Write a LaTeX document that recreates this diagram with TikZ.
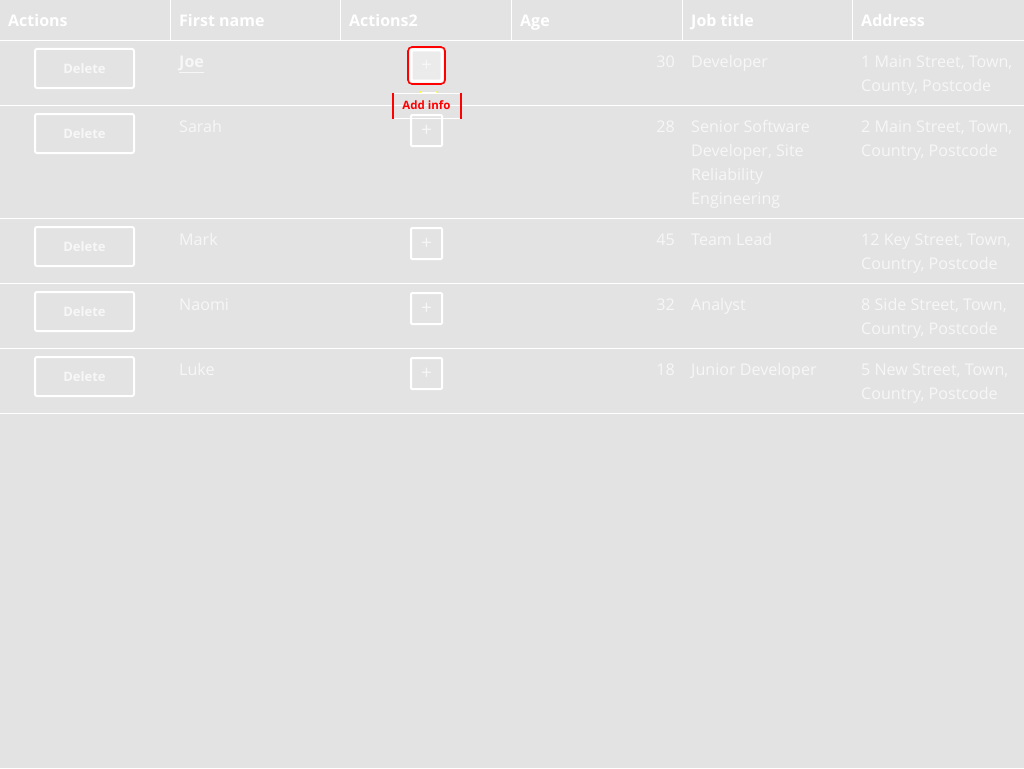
\documentclass[tikz,border=0pt]{standalone}
\usepackage{fontspec}
\setmainfont{Open Sans}
\definecolor{bg}{HTML}{E3E3E3}
\definecolor{txt}{HTML}{F7F7F7}
\definecolor{ringred}{HTML}{FF0000}
\definecolor{ringyel}{HTML}{FFFF00}
\definecolor{focusfill}{HTML}{EBEBEB}
\tikzset{
  grid/.style={draw=white, line width=1pt},
  cell/.style={anchor=north west, inner sep=0pt, align=left, text=txt, font=\fontsize{16.1}{24}\selectfont},
  agecell/.style={anchor=north east, inner sep=0pt, align=right, text=txt, font=\fontsize{16.1}{24}\selectfont},
  head/.style={anchor=north west, inner sep=0pt, text=white, font=\fontsize{16}{24}\selectfont\bfseries},
  delbtn/.style={draw=white, line width=2pt, rounded corners=2pt, minimum width=99pt, minimum height=39pt, inner sep=0pt, text=txt, font=\fontsize{13}{16}\selectfont\bfseries},
  plusbtn/.style={draw=white, line width=2pt, rounded corners=1pt, minimum width=31pt, minimum height=31pt, inner sep=0pt, text=txt, font=\fontsize{19}{19}\selectfont},
  focusring/.style={draw=ringred, line width=1.6pt, rounded corners=4pt, minimum width=37pt, minimum height=37pt, inner sep=0pt},
  tipbox/.style={draw=white, line width=1pt, minimum width=67pt, minimum height=25pt, inner sep=0pt, text=ringred, font=\fontsize{11.5}{12}\selectfont\bfseries},
}
\begin{document}
\begin{tikzpicture}[x=1pt,y=-1pt]
\fill[bg] (0,0) rectangle (1024,768);
\useasboundingbox (0,0) rectangle (1024,768);
% grid lines
\foreach \xx in {170.5,340.5,511.5,682.5,852.5} \draw[grid] (\xx,0) -- (\xx,40);
\foreach \yy in {40.5,105.5,218.5,283.5,348.5,413.5} \draw[grid] (0,\yy) -- (1024,\yy);
% header
\node[head] (h1) at (8,9.2) {\strut Actions};
\node[head] (h2) at (179,9.2) {\strut First name};
\node[head] (h3) at (349,9.2) {\strut Actions2};
\node[head] (h4) at (520,9.2) {\strut Age};
\node[head] (h5) at (691,9.2) {\strut Job title};
\node[head] (h6) at (861,9.2) {\strut Address};
% row 1
\node[delbtn] (d1) at (84.5,68.5) {Delete};
\node[cell] (n1) at (179,50.2) {\strut\textbf{\underline{Joe}}};
\node[plusbtn, fill=focusfill, line width=3pt, rounded corners=2pt] (p1) at (426.5,65.5) {+};
\node[focusring] (r1) at (p1) {};
\node[agecell] (a1) at (675,50.2) {\strut 30};
\node[cell] (j1) at (691,50.2) {\strut Developer};
\node[cell] (ad1) at (861,50.2) {\strut 1 Main Street, Town,\\\strut County, Postcode};
% row 2
\node[delbtn] (d2) at (84.5,133.5) {Delete};
\node[cell] (n2) at (179,115.2) {\strut Sarah};
\node[plusbtn] (p2) at (426.5,130.5) {+};
\node[agecell] (a2) at (675,115.2) {\strut 28};
\node[cell] (j2) at (691,115.2) {\strut Senior Software\\\strut Developer, Site\\\strut Reliability\\\strut Engineering};
\node[cell] (ad2) at (861,115.2) {\strut 2 Main Street, Town,\\\strut Country, Postcode};
% row 3
\node[delbtn] (d3) at (84.5,246.5) {Delete};
\node[cell] (n3) at (179,228.2) {\strut Mark};
\node[plusbtn] (p3) at (426.5,243.5) {+};
\node[agecell] (a3) at (675,228.2) {\strut 45};
\node[cell] (j3) at (691,228.2) {\strut Team Lead};
\node[cell] (ad3) at (861,228.2) {\strut 12 Key Street, Town,\\\strut Country, Postcode};
% row 4
\node[delbtn] (d4) at (84.5,311.5) {Delete};
\node[cell] (n4) at (179,293.2) {\strut Naomi};
\node[plusbtn] (p4) at (426.5,308.5) {+};
\node[agecell] (a4) at (675,293.2) {\strut 32};
\node[cell] (j4) at (691,293.2) {\strut Analyst};
\node[cell] (ad4) at (861,293.2) {\strut 8 Side Street, Town,\\\strut Country, Postcode};
% row 5
\node[delbtn] (d5) at (84.5,376.5) {Delete};
\node[cell] (n5) at (179,358.2) {\strut Luke};
\node[plusbtn] (p5) at (426.5,373.5) {+};
\node[agecell] (a5) at (675,358.2) {\strut 18};
\node[cell] (j5) at (691,358.2) {\strut Junior Developer};
\node[cell] (ad5) at (861,358.2) {\strut 5 New Street, Town,\\\strut Country, Postcode};
% tooltip
\node[tipbox] (tip) at (426.5,105.5) {Add info};
\coordinate (tl) at (420,92);
\coordinate (tr) at (437,92);
\draw[white, line width=1pt] (tl) -- (tr);
\fill[ringyel] (tl) circle (1pt) (tr) circle (1pt);
\draw[ringred, line width=2pt] (tip.north west) -- (tip.south west);
\draw[ringred, line width=2pt] (tip.north east) -- (tip.south east);
\end{tikzpicture}
\end{document}
